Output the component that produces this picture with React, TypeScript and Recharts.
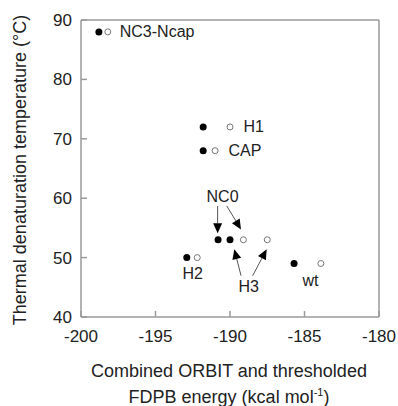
import React from 'react';
import { ScatterChart, Scatter, XAxis, YAxis, ReferenceLine } from 'recharts';

// Variants (filled = ORBIT energy, open = combined thresholded energy)
const variants = ['NC3-Ncap', 'H1', 'CAP', 'NC0', 'H3', 'H2', 'wt'];
const meltingTemp = [88, 72, 68, 53, 53, 50, 49];
const energyFilled = [-198.8, -191.8, -191.8, -190.8, -190.0, -192.9, -185.7];
const energyOpen = [-198.2, -190.0, -191.0, -189.1, -187.5, -192.2, -183.9];

const xTicks = [-200, -195, -190, -185, -180];
const yTicks = [40, 50, 60, 70, 80, 90];

// Annotation labels (data coordinates)
const labelText = ['NC3-Ncap', 'H1', 'CAP', 'NC0', 'H2', 'H3', 'wt'];
const labelX = [-197.4, -189.1, -190.1, -190.5, -192.5, -188.75, -184.6];
const labelY = [88, 72, 68, 60.25, 47.4, 45.1, 46.2];
const labelAnchor = ['start', 'start', 'start', 'middle', 'middle', 'middle', 'middle'];

// Arrows: [x1, y1, x2, y2] in data coordinates
const arrows = [
  [-190.83, 58.7, -190.83, 54.1],
  [-190.22, 58.7, -189.26, 54.75],
  [-189.26, 46.95, -189.71, 51.4],
  [-188.48, 46.95, -187.54, 51.4],
];

const filledData = variants.map((n, i) => ({ name: n, x: energyFilled[i], y: meltingTemp[i] }));
const openData = variants.map((n, i) => ({ name: n, x: energyOpen[i], y: meltingTemp[i] }));
const labelData = labelText.map((t, i) => ({ x: labelX[i], y: labelY[i], text: t, anchor: labelAnchor[i] }));

const FONT = 'Liberation Sans, Arial, Helvetica, sans-serif';
const AXIS = '#9a9a9a';

const FilledDot = (p: any) => <circle cx={p.cx} cy={p.cy} r={3.5} fill="#000" />;
const OpenDot = (p: any) => <circle cx={p.cx} cy={p.cy} r={3} fill="#fff" stroke="#777" strokeWidth={1} />;
const LabelShape = (p: any) => (
  <text
    x={p.cx}
    y={p.cy}
    textAnchor={p.payload.anchor}
    dominantBaseline="central"
    fontSize={16}
    fontFamily={FONT}
    fill="#222"
  >
    {p.payload.text}
  </text>
);

const ArrowShape = (p: any) => {
  const { x1, y1, x2, y2 } = p;
  const dx = x2 - x1;
  const dy = y2 - y1;
  const len = Math.sqrt(dx * dx + dy * dy) || 1;
  const ux = dx / len;
  const uy = dy / len;
  const hl = 10;
  const hw = 4.5;
  const bx = x2 - ux * hl;
  const by = y2 - uy * hl;
  const pts = `${x2},${y2} ${bx - uy * hw},${by + ux * hw} ${bx + uy * hw},${by - ux * hw}`;
  return (
    <g>
      <line x1={x1} y1={y1} x2={bx} y2={by} stroke="#555" strokeWidth={1} />
      <polygon points={pts} fill="#000" />
    </g>
  );
};

const YTitle = (props: any) => {
  const vb = props.viewBox || { x: 0, y: 20, width: 81, height: 297 };
  const cx = vb.x + 20;
  const cy = vb.y + vb.height / 2 + 1.5;
  return (
    <text
      x={cx}
      y={cy}
      transform={`rotate(-90, ${cx}, ${cy})`}
      textAnchor="middle"
      dominantBaseline="central"
      fontSize={18}
      fontFamily={FONT}
      fill="#222"
    >
      Thermal denaturation temperature (°C)
    </text>
  );
};

const XTitle = (props: any) => {
  const vb = props.viewBox || { x: 81, y: 317, width: 298, height: 89 };
  const cx = vb.x + vb.width / 2 - 1;
  return (
    <text textAnchor="middle" fontSize={18} fontFamily={FONT} fill="#222">
      <tspan x={cx} y={vb.y + 60}>Combined ORBIT and thresholded</tspan>
      <tspan x={cx} y={vb.y + 86}>
        FDPB energy (kcal mol
        <tspan fontSize={11} dy={-7}>-1</tspan>
        <tspan dy={7}>)</tspan>
      </tspan>
    </text>
  );
};

export default function App() {
  return (
    <div style={{ position: 'absolute', left: 0, top: 0, background: '#fff' }}>
      <ScatterChart width={398} height={406} margin={{ top: 20, right: 19, bottom: 0, left: 0 }}>
        <XAxis
          type="number"
          dataKey="x"
          domain={[-200, -180]}
          ticks={xTicks}
          allowDataOverflow
          height={89}
          stroke={AXIS}
          strokeWidth={1.5}
          tickSize={-6}
          tickMargin={19}
          tick={{ fill: '#222', fontSize: 17, fontFamily: FONT }}
          label={<XTitle />}
        />
        <YAxis
          type="number"
          dataKey="y"
          domain={[40, 90]}
          ticks={yTicks}
          allowDataOverflow
          width={81}
          stroke={AXIS}
          strokeWidth={1.5}
          tickSize={-6}
          tickMargin={15}
          tick={{ fill: '#222', fontSize: 17, fontFamily: FONT }}
          label={<YTitle />}
        />
        <ReferenceLine y={90} stroke={AXIS} strokeWidth={1.5} />
        <ReferenceLine x={-180} stroke={AXIS} strokeWidth={1.5} />
        {arrows.map((a, i) => (
          <ReferenceLine
            key={i}
            segment={[{ x: a[0], y: a[1] }, { x: a[2], y: a[3] }]}
            shape={ArrowShape}
          />
        ))}
        <Scatter data={filledData} shape={FilledDot} isAnimationActive={false} />
        <Scatter data={openData} shape={OpenDot} isAnimationActive={false} />
        <Scatter data={labelData} shape={LabelShape} isAnimationActive={false} />
      </ScatterChart>
    </div>
  );
}
